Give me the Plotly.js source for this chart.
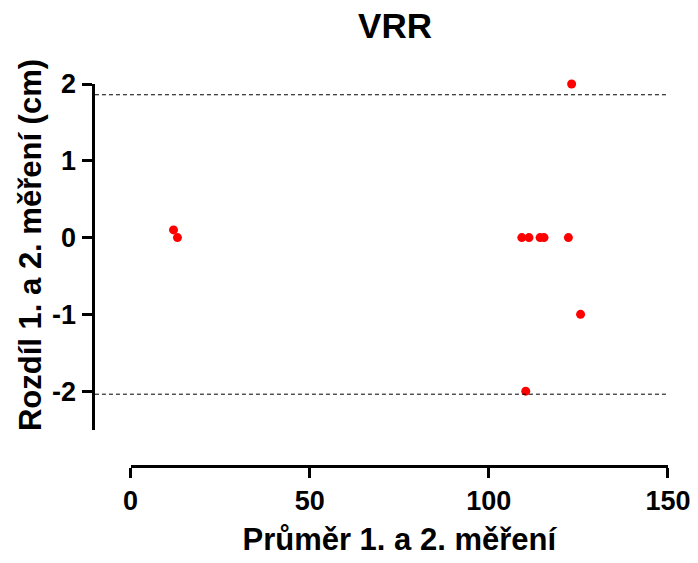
<!DOCTYPE html>
<html>
<head>
<meta charset="utf-8">
<script src="https://cdn.plot.ly/plotly-3.0.1.min.js"></script>
<style>html,body{margin:0;padding:0;background:#fff;}#chart{width:698px;height:563px;}</style>
</head>
<body>
<div id="chart"></div>
<script>
// Data (Bland-Altman, VRR)
const meanValues = [12.0, 13.1, 109.2, 111.2, 114.3, 115.4, 122.2, 123.1, 125.6, 110.3];
const diffValues = [0.1, 0, 0, 0, 0, 0, 0, 2, -1, -2];
const limitValues = [1.86, -2.04];
const xTickVals = [0, 50, 100, 150];
const yTickVals = [-2, -1, 0, 1, 2];
const chartTitle = 'VRR';
const xTitle = 'Průměr 1. a 2. měření';
const yTitle = 'Rozdíl 1. a 2. měření (cm)';

const FONT = 'Liberation Sans, Arial, sans-serif';
const yAxisPos = 0.0535;

const trace = {
  x: meanValues,
  y: diffValues,
  type: 'scatter',
  mode: 'markers',
  marker: {color: '#ff0000', size: 9},
  cliponaxis: false,
  hoverinfo: 'skip'
};

const shapes = limitValues.map(v => ({
  type: 'line', xref: 'paper', yref: 'y',
  x0: yAxisPos + 0.004, x1: 1, y0: v, y1: v,
  line: {color: '#000', width: 1, dash: '4px,3px'}
}));

const layout = {
  width: 698, height: 563,
  margin: {l: 60, r: 30, t: 84, b: 97},
  paper_bgcolor: '#fff', plot_bgcolor: '#fff',
  showlegend: false,
  font: {family: FONT, color: '#000'},
  title: {
    text: '<b>' + chartTitle + '</b>',
    font: {family: FONT, size: 35, color: '#000'},
    xref: 'container', x: 0.566, xanchor: 'center',
    yref: 'container', y: 0.955, yanchor: 'middle'
  },
  xaxis: {
    domain: [0.116, 1],
    range: [0, 150],
    anchor: 'free', position: 0,
    showgrid: false, zeroline: false,
    showline: true, linecolor: '#000', linewidth: 3,
    ticks: 'outside', ticklen: 10, tickwidth: 3, tickcolor: '#000',
    tickvals: xTickVals, ticktext: xTickVals.map(v => '<b>' + v + '</b>'),
    tickfont: {family: FONT, size: 27, color: '#000'},
    title: {text: '<b>' + xTitle + '</b>', font: {family: FONT, size: 31, color: '#000'}, standoff: 12}
  },
  yaxis: {
    domain: [0.0955, 1],
    range: [-2.5, 2],
    anchor: 'free', position: yAxisPos,
    showgrid: false, zeroline: false,
    showline: true, linecolor: '#000', linewidth: 3,
    ticks: 'outside', ticklen: 10, tickwidth: 3, tickcolor: '#000',
    tickvals: yTickVals, ticktext: yTickVals.map(v => '<b>' + v + '</b>'),
    tickfont: {family: FONT, size: 27, color: '#000'}
  },
  annotations: [{
    text: '<b>' + yTitle + '</b>',
    textangle: -90,
    xref: 'paper', yref: 'paper',
    x: -0.0493, y: 0.5785,
    xanchor: 'center', yanchor: 'middle',
    showarrow: false,
    font: {family: FONT, size: 31, color: '#000'}
  }],
  shapes: shapes
};

Plotly.newPlot('chart', [trace], layout, {displayModeBar: false, staticPlot: true});
</script>
</body>
</html>
